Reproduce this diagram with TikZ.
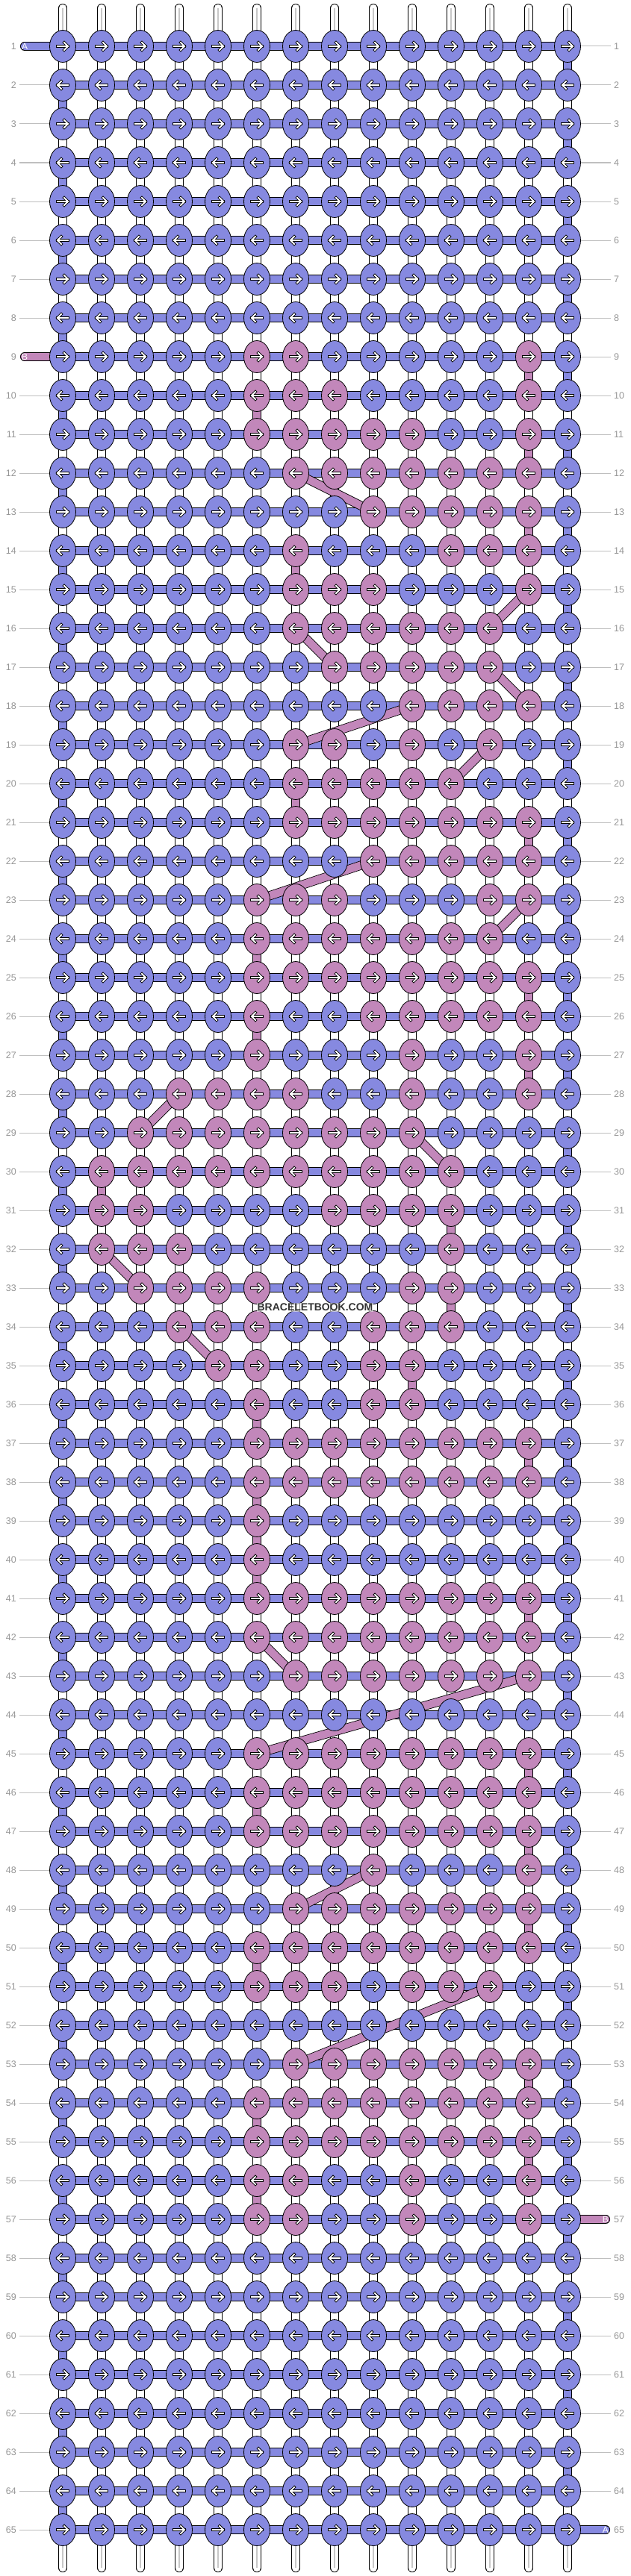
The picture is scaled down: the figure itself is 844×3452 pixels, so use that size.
\documentclass[tikz,border=0pt]{standalone}
\usepackage{fontspec}
\setmainfont{Liberation Sans}
\usetikzlibrary{shapes.geometric}

\definecolor{threadA}{RGB}{134,137,224}
\definecolor{threadB}{RGB}{194,135,186}
\definecolor{rowgray}{RGB}{150,150,150}

\pgfdeclarelayer{background}
\pgfsetlayers{background,main}

% Knots where thread B shows, per row
\makeatletter
\newcommand\setpink[2]{\expandafter\def\csname pink@#1\endcsname{,#2,}}
\newcommand\knotfill[2]{%
  \def\kfill{threadA}%
  \ifcsname pink@#1\endcsname
    \edef\tmp@test{\noexpand\in@{,#2,}{\csname pink@#1\endcsname}}\tmp@test
    \ifin@\def\kfill{threadB}\fi
  \fi}
\newcommand\strandfill[2]{%
  \def\sfill{white}%
  \ifnum#2=1 \ifodd#1\relax\else\def\sfill{threadA}\fi\fi
  \ifnum#2=14 \ifodd#1\relax\def\sfill{threadA}\fi\fi
  \edef\tmp@test{\noexpand\in@{,#1/#2,}{\bturns}}\tmp@test
  \ifin@\def\sfill{threadB}\fi}
\makeatother
\newcommand\whitename{white}

% Thread B going down between two rows (upper row/column)
\newcommand\bturns{,9/13,10/6,11/13,13/13,14/7,20/7,21/13,24/6,25/13,26/6,27/13,30/2,31/11,33/11,35/10,36/6,37/13,38/6,39/6,40/6,41/13,45/13,46/6,47/13,49/13,50/6,53/13,54/6,55/13,56/6,}

\setpink{9}{6,7,13}
\setpink{10}{6,7,8,13}
\setpink{11}{6,7,8,9,10,13}
\setpink{12}{7,8,9,10,11,12,13}
\setpink{13}{9,10,11,12,13}
\setpink{14}{7,11,12,13}
\setpink{15}{7,8,9,13}
\setpink{16}{7,8,9,10,11,12}
\setpink{17}{8,9,10,11,12}
\setpink{18}{10,11,12,13}
\setpink{19}{7,8,10,12}
\setpink{20}{7,8,9,10,11}
\setpink{21}{7,8,9,10,11,12,13}
\setpink{22}{9,10,11,12,13}
\setpink{23}{6,7,8,12,13}
\setpink{24}{6,7,8,9,10,11,12}
\setpink{25}{6,7,8,9,10,11,12,13}
\setpink{26}{6,9,10,11,12,13}
\setpink{27}{6,10,13}
\setpink{28}{4,5,6,7,10,13}
\setpink{29}{3,4,5,6,7,8,9,10}
\setpink{30}{2,3,4,5,6,7,8,9,10,11}
\setpink{31}{2,3,8,9,10,11}
\setpink{32}{2,3,4,11}
\setpink{33}{3,4,5,6,10,11}
\setpink{34}{4,5,6,9,10,11}
\setpink{35}{5,6,9,10}
\setpink{36}{6,9,10}
\setpink{37}{6,7,8,9,10,11,12,13}
\setpink{38}{6,7,8,9,10,11,12,13}
\setpink{39}{6}
\setpink{40}{6}
\setpink{41}{6,7,8,9,10,11,12,13}
\setpink{42}{6,7,8,9,10,11,12,13}
\setpink{43}{7,8,9,10,11,12,13}
\setpink{45}{6,7,8,9,10,11,12,13}
\setpink{46}{6,7,8,9,10,11,12,13}
\setpink{47}{6,7,8,9,10,11,12,13}
\setpink{48}{9,13}
\setpink{49}{7,8,9,10,11,12,13}
\setpink{50}{6,7,8,9,10,11,12,13}
\setpink{51}{6,7,8,10,11,12}
\setpink{53}{7,8,9,10,11,12,13}
\setpink{54}{6,7,8,9,10,11,12,13}
\setpink{55}{6,7,8,9,10,11,12,13}
\setpink{56}{6,7,10,13}
\setpink{57}{6,7,10,13}

\begin{document}
\begin{tikzpicture}[x=1pt, y=-1pt,
    knot/.style={ellipse, draw=black, line width=0.8pt, minimum width=35pt, minimum height=43pt, inner sep=0pt},
    band/.style={draw=black, line width=0.8pt, double=#1, double distance=10.5pt},
    tail/.style={band=#1, line cap=round},
    core/.style={draw=black!22, line width=1.2pt},
    rowline/.style={draw=black!25, line width=1pt},
    rownum/.style={text=rowgray, font=\fontsize{12.5}{14}\selectfont, inner sep=0pt},
    tailtext/.style={text=white, font=\fontsize{12}{12}\selectfont, inner sep=0pt},
    knotarrow/.pic={
      \draw[line width=3.6pt, black, line cap=rect] (-7,0) -- (7,0) (2,-5) -- (7,0) -- (2,5);
      \draw[line width=1.8pt, white, line cap=rect] (-7,0) -- (7,0) (2,-5) -- (7,0) -- (2,5);
    }]
    \useasboundingbox (0,0) rectangle (844,3452);

    % Knots
    \foreach \row in {1,...,65} {
      \foreach \col in {1,...,14} {
        \knotfill{\row}{\col}
        \node[knot, fill=\kfill] (k-\row-\col) at (32+52*\col, 10+52*\row) {};
        \ifodd\row\relax \def\dir{1}\else \def\dir{-1}\fi
        \pic[xscale=\dir] at (k-\row-\col) {knotarrow};
      }
    }

    % Row numbers
    \foreach \row in {1,...,65} {
      \node[rownum, anchor=east] (ln-\row) at (22, 10+52*\row) {\row};
      \node[rownum, anchor=west] (rn-\row) at (822, 10+52*\row) {\row};
    }

    % Loose ends
    \foreach \col in {1,...,14} {
      \coordinate (top-\col) at (32+52*\col, 11);
      \coordinate (bot-\col) at (32+52*\col, 3441);
    }
    \coordinate (endA1) at (33, 62);
    \coordinate (endA2) at (811, 3390);
    \coordinate (endB1) at (33, 478);
    \coordinate (endB2) at (811, 2974);

    \begin{pgfonlayer}{background}
      % Row lines
      \foreach \row in {2,...,8,10,11,...,65}
        \draw[rowline] ([xshift=4pt]ln-\row.east) -- (k-\row-1.west);
      \foreach \row in {1,...,56,58,59,...,64}
        \draw[rowline] ([xshift=-4pt]rn-\row.west) -- (k-\row-14.east);

      % Strings
      \foreach \col in {1,...,14} {
        \draw[tail=white] (top-\col) -- (k-1-\col.center);
        \draw[core] (top-\col) -- (k-1-\col.center);
        \draw[tail=white] (k-65-\col.center) -- (bot-\col);
        \draw[core] (k-65-\col.center) -- (bot-\col);
      }
      \foreach \row [count=\nrow from 2] in {1,...,64} {
        \foreach \col in {1,...,14} {
          \strandfill{\row}{\col}
          \draw[band=\sfill] (k-\row-\col.center) -- (k-\nrow-\col.center);
          \ifx\sfill\whitename
            \draw[core] (k-\row-\col.center) -- (k-\nrow-\col.center);
          \fi
        }
      }

      % Thread A across the rows
      \foreach \row in {1,...,65} {
        \foreach \col [count=\ncol from 2] in {1,...,13}
          \draw[band=threadA] (k-\row-\col.center) -- (k-\row-\ncol.center);
      }
      \draw[tail=threadA] (endA1) -- (k-1-1.center);
      \draw[tail=threadA] (k-65-14.center) -- (endA2);

      % Thread B
      \draw[tail=threadB] (endB1) -- (k-9-1.center);
      \draw[tail=threadB] (k-57-14.center) -- (endB2);
      \foreach \a/\b in {12-7/13-9, 15-13/16-12, 16-7/17-8, 17-12/18-13, 18-10/19-7,
          19-12/20-11, 22-9/23-6, 23-13/24-12, 28-4/29-3, 29-10/30-11, 32-2/33-3,
          34-4/35-5, 42-6/43-7, 43-13/45-6, 48-9/49-7, 51-12/53-7}
        \draw[band=threadB] (k-\a.center) -- (k-\b.center);
    \end{pgfonlayer}

    % Thread names
    \node[tailtext, anchor=west] (nameA1) at (29, 62) {A};
    \node[tailtext, anchor=east] (nameA2) at (815, 3390) {A};
    \node[tailtext, anchor=west] (nameB1) at (29, 478) {B};
    \node[tailtext, anchor=east] (nameB2) at (815, 2974) {B};

    % Watermark
    \node[fill=white, fill opacity=0.55, text opacity=1, text=black!80,
      font=\bfseries\fontsize{14}{14}\selectfont, inner sep=1pt] (mark) at (422, 1752) {BRACELETBOOK.COM};
\end{tikzpicture}
\end{document}
